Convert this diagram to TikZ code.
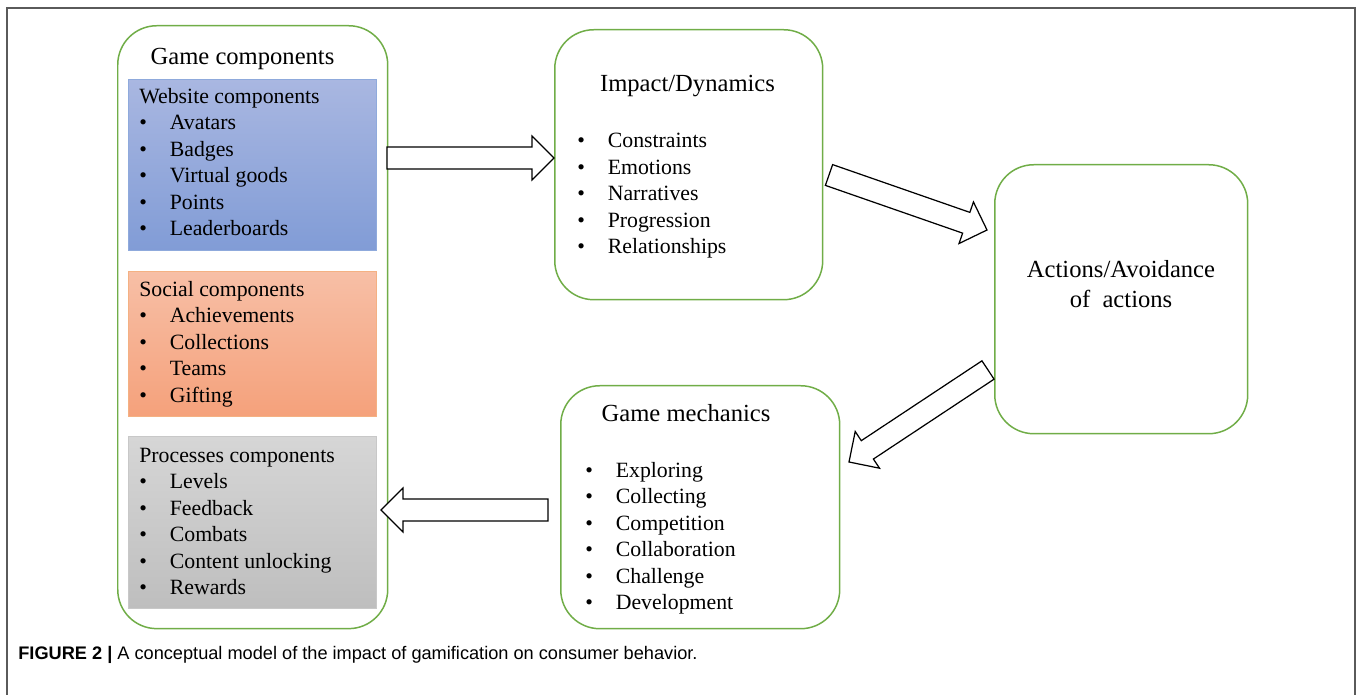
\documentclass[tikz,border=0pt]{standalone}
\usepackage{fontspec}
\setmainfont{Liberation Serif}
\newfontfamily\capfont{Liberation Sans}
\usetikzlibrary{calc}

\definecolor{boxgreen}{HTML}{70AD47}
\definecolor{webtop}{HTML}{A9B7E1}
\definecolor{webbot}{HTML}{819CD6}
\definecolor{webline}{HTML}{8FAADC}
\definecolor{soctop}{HTML}{F7BFA6}
\definecolor{socbot}{HTML}{F5A17B}
\definecolor{socline}{HTML}{F4B183}
\definecolor{proctop}{HTML}{D6D6D6}
\definecolor{procbot}{HTML}{BEBEBE}
\definecolor{procline}{HTML}{C8C8C8}
\definecolor{framegray}{HTML}{5A5A5A}

% bullet item
\newcommand{\itm}[1]{\makebox[0.61cm][l]{\textbullet}#1}
% hollow block arrow from #1 to #2, #3 names the base of the head
\newcommand{\blockarrow}[3]{%
  \coordinate (#3) at ($(#2)!0.44cm!(#1)$);
  \draw[blockarr] ($(#1)!0.22cm!-90:(#2)$) -- ($(#3)!0.22cm!90:(#1)$)
    -- ($(#3)!0.44cm!90:(#1)$) -- (#2) -- ($(#3)!0.44cm!-90:(#1)$)
    -- ($(#3)!0.22cm!-90:(#1)$) -- ($(#1)!0.22cm!90:(#2)$) -- cycle;}

\begin{document}
\begin{tikzpicture}[x=0.02cm, y=-0.02cm,%
% common options for the green boxes:
gbox/.style = {draw=boxgreen, line width=0.85pt, rounded corners=0.78cm,
            fill=white, inner sep=0, anchor=north west},
% common options for the coloured panels:
panel/.style = {line width=0.6pt, inner sep=0, anchor=north west,
            minimum width=4.96cm},
head/.style = {anchor=base, inner sep=0, font=\fontsize{14}{17}\selectfont},
item/.style = {anchor=base west, inner sep=0, font=\fontsize{12.4}{15}\selectfont},
blockarr/.style = {draw=black, fill=white, line width=0.7pt, line join=miter}]
\useasboundingbox (0,0) rectangle (1358,695);
\draw[framegray, line width=1.1pt] (7,695) -- (7,8) -- (1355,8) -- (1355,695);

\node[gbox, minimum width=5.4cm, minimum height=12.06cm] (game) at (117,25) {};
\node[gbox, minimum width=5.36cm, minimum height=5.4cm] (impact) at (554,29) {};
\node[gbox, minimum width=5.06cm, minimum height=5.38cm] (actions) at (994,164) {};
\node[gbox, minimum width=5.58cm, minimum height=4.86cm] (mech) at (560,385) {};

\node[head] (G0) at (242.5,65) {Game components};
\node[panel, draw=webline, top color=webtop, bottom color=webbot,
      minimum height=3.42cm] (web) at (128,79) {};
\node[panel, draw=socline, top color=soctop, bottom color=socbot,
      minimum height=2.9cm] (social) at (128,271) {};
\node[panel, draw=procline, top color=proctop, bottom color=procbot,
      minimum height=3.44cm] (proc) at (128,436) {};

\node[item] (W0) at (139,104) {Website components};
\node[item] (W1) at (139,130) {\itm{Avatars}};
\node[item] (W2) at (139,157) {\itm{Badges}};
\node[item] (W3) at (139,183) {\itm{Virtual goods}};
\node[item] (W4) at (139,210) {\itm{Points}};
\node[item] (W5) at (139,236) {\itm{Leaderboards}};

\node[item] (S0) at (139,297) {Social components};
\node[item] (S1) at (139,323) {\itm{Achievements}};
\node[item] (S2) at (139,350) {\itm{Collections}};
\node[item] (S3) at (139,376) {\itm{Teams}};
\node[item] (S4) at (139,403) {\itm{Gifting}};

\node[item] (P0) at (139,462) {Processes components};
\node[item] (P1) at (139,488) {\itm{Levels}};
\node[item] (P2) at (139,515) {\itm{Feedback}};
\node[item] (P3) at (139,541) {\itm{Combats}};
\node[item] (P4) at (139,568) {\itm{Content unlocking}};
\node[item] (P5) at (139,594) {\itm{Rewards}};

\node[head] (I0) at (687.5,92) {Impact/Dynamics};
\node[item] (I1) at (577,148) {\itm{Constraints}};
\node[item] (I2) at (577,175) {\itm{Emotions}};
\node[item] (I3) at (577,201) {\itm{Narratives}};
\node[item] (I4) at (577,228) {\itm{Progression}};
\node[item] (I5) at (577,254) {\itm{Relationships}};

\node[head] (A1) at (1121,278) {Actions/Avoidance};
\node[head] (A2) at (1121,308) {of\ \ actions};

\node[head] (M0) at (686,421) {Game mechanics};
\node[item] (M1) at (585,477) {\itm{Exploring}};
\node[item] (M2) at (585,503) {\itm{Collecting}};
\node[item] (M3) at (585,530) {\itm{Competition}};
\node[item] (M4) at (585,556) {\itm{Collaboration}};
\node[item] (M5) at (585,583) {\itm{Challenge}};
\node[item] (M6) at (585,609) {\itm{Development}};

\coordinate (gc-out) at (387,158);
\coordinate (id-in) at (554,158);
\coordinate (id-out) at (829,175);
\coordinate (aa-in) at (987,230);
\coordinate (aa-out) at (988,370);
\coordinate (gm-in) at (849,462);
\coordinate (gm-out) at (548,510);
\coordinate (gc-in) at (381,510);
\blockarrow{gc-out}{id-in}{h1}
\blockarrow{id-out}{aa-in}{h2}
\blockarrow{aa-out}{gm-in}{h3}
\blockarrow{gm-out}{gc-in}{h4}

\node[anchor=base west, inner sep=0, font=\capfont\fontsize{10.35}{12}\selectfont]
  (cap) at (18,659) {\textbf{FIGURE 2 |} A conceptual model of the impact of gamification on consumer behavior.};
\end{tikzpicture}
\end{document}
